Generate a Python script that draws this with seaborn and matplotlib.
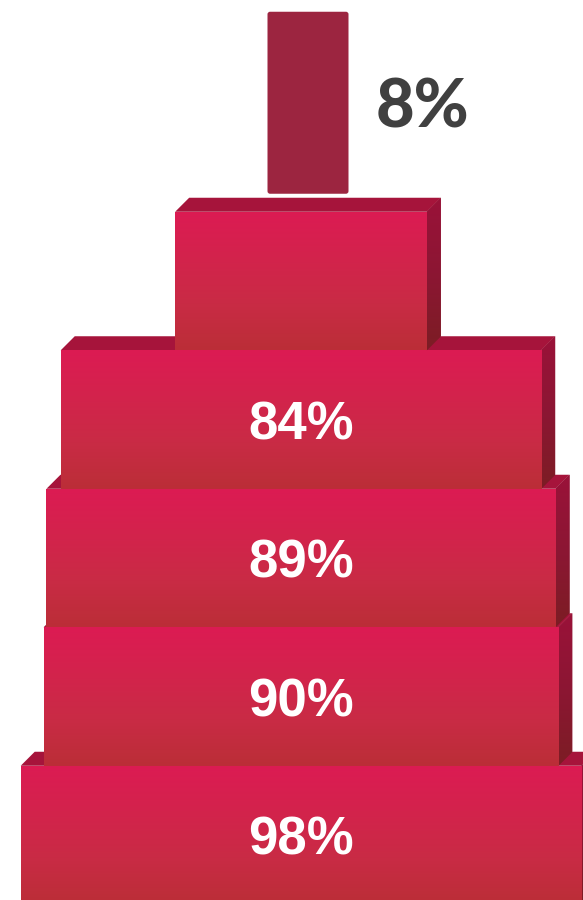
import matplotlib
matplotlib.use("Agg")
import numpy as np
import pandas as pd
import matplotlib.pyplot as plt
import seaborn as sns
from matplotlib.patches import Polygon, FancyBboxPatch
from matplotlib.colors import LinearSegmentedColormap

# Stacked tiers, listed from the top of the pyramid to the base
tiers = ["Level 5", "Level 4", "Level 3", "Level 2", "Level 1"]
values = [44, 84, 89, 90, 98]
value_labels = ["", "84%", "89%", "90%", "98%"]

# Small block crowning the pyramid
cap_value = 8
cap_label = "8%"

df = pd.DataFrame({"tier": tiers, "value": values})

# Layout (pixels)
W, H, DPI = 583, 900, 100
PX_PER_UNIT = 5.72      # horizontal pixels per percentage point
CENTER_PX = 301         # horizontal centre of the pyramid
ROW_PX = 138.5          # height of one tier
FIRST_ROW_PX = 281      # vertical centre of the top tier
DEPTH_PX = 14           # extrusion depth of the 3-D faces
CAP_W_PX, CAP_H_PX, CAP_GAP_PX = 81, 182, 4

front_cmap = LinearSegmentedColormap.from_list(
    "front", ["#DC1B53", "#D3234C", "#C92B45", "#BB2E37"])
side_cmap = LinearSegmentedColormap.from_list(
    "side", ["#9A1239", "#8C1633", "#7C1D24"])
TOP_COLOR = "#A6143B"
CAP_COLOR = "#9C2540"

sns.set_theme(style="white")
fig = plt.figure(figsize=(W / DPI, H / DPI), dpi=DPI)
ax = fig.add_axes([0, 0, 1, 1])
sns.barplot(data=df, x="value", y="tier", orient="h", width=1.0,
            color="#CF264A", saturation=1, ax=ax)

xlim = (-CENTER_PX / PX_PER_UNIT, (W - CENTER_PX) / PX_PER_UNIT)
ylim = ((H - FIRST_ROW_PX) / ROW_PX, -FIRST_ROW_PX / ROW_PX)
dx = DEPTH_PX / PX_PER_UNIT
dy = DEPTH_PX / ROW_PX
grad = np.linspace(0, 1, 256).reshape(-1, 1)

n = len(tiers)
for i, (patch, label) in enumerate(zip(ax.patches, value_labels)):
    w = patch.get_width()
    x0, x1 = -w / 2, w / 2
    patch.set_x(x0)
    patch.set_linewidth(0)
    y0, h = patch.get_y(), patch.get_height()
    y1 = y0 + h
    z = 10 + (n - i) * 5
    patch.set_zorder(z + 2)

    # top face
    top = Polygon([(x0, y0), (x0 + dx, y0 - dy), (x1 + dx, y0 - dy), (x1, y0)],
                  closed=True, facecolor=TOP_COLOR, edgecolor="none", zorder=z)
    ax.add_patch(top)

    # right side face with a vertical shade
    side = Polygon([(x1, y0), (x1 + dx, y0 - dy), (x1 + dx, y1 - dy), (x1, y1)],
                   closed=True, facecolor="#8C1633", edgecolor="none", zorder=z + 1)
    ax.add_patch(side)
    im = ax.imshow(grad, cmap=side_cmap, aspect="auto", origin="upper",
                   extent=(x1, x1 + dx, y1, y0 - dy), zorder=z + 1.5,
                   interpolation="bilinear")
    im.set_clip_path(side)

    # front face gradient
    im = ax.imshow(grad, cmap=front_cmap, aspect="auto", origin="upper",
                   extent=(x0, x1, y1, y0), zorder=z + 3, interpolation="bilinear")
    im.set_clip_path(patch)

    if label:
        ax.text(0, (y0 + y1) / 2, label, ha="center", va="center_baseline",
                color="white", fontsize=38, fontweight="bold",
                family="Liberation Sans", zorder=z + 4)

# cap block resting on the back edge of the top tier
top_patch = ax.patches[0]
cap_w = CAP_W_PX / PX_PER_UNIT
cap_h = CAP_H_PX / ROW_PX
cap_bottom = top_patch.get_y() - dy - CAP_GAP_PX / ROW_PX
cap_cx = dx / 2
cap = FancyBboxPatch((cap_cx - cap_w / 2, cap_bottom - cap_h), cap_w, cap_h,
                     boxstyle="round,pad=0,rounding_size=0.45",
                     mutation_aspect=PX_PER_UNIT / ROW_PX,
                     facecolor=CAP_COLOR, edgecolor="none", zorder=60)
ax.add_patch(cap)
ax.text(cap_cx + cap_w / 2 + 27 / PX_PER_UNIT, cap_bottom - cap_h / 2, cap_label,
        ha="left", va="center_baseline", color="#404040", fontsize=48,
        fontweight="black", family="Lato", zorder=61)

ax.set_xlim(*xlim)
ax.set_ylim(*ylim)
ax.axis("off")
fig.savefig("out.png", dpi=DPI, facecolor="white")
